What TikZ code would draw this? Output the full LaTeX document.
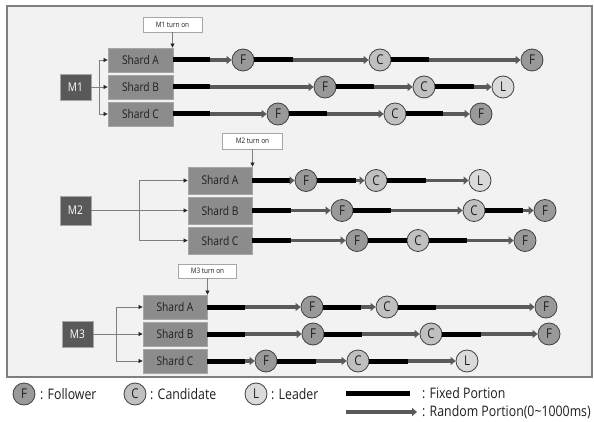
\documentclass[tikz,border=0pt]{standalone}
\usepackage{fontspec}
\setmainfont{Open Sans}[FakeStretch=0.85]
\usetikzlibrary{arrows.meta}
\definecolor{panelfill}{HTML}{F2F2F2}
\definecolor{panelline}{HTML}{7F7F7F}
\definecolor{shardfill}{HTML}{8C8C8C}
\definecolor{shardline}{HTML}{A6A6A6}
\definecolor{mfill}{HTML}{595959}
\definecolor{randcol}{HTML}{5A5A5A}
\definecolor{folfill}{HTML}{999999}
\definecolor{candfill}{HTML}{C0C0C0}
\definecolor{leadfill}{HTML}{DADADA}
\definecolor{txtdark}{HTML}{1F1F1F}
\tikzset{
  panelbox/.style={draw=panelline, fill=panelfill, line width=1.2pt, minimum width=585pt, minimum height=371pt, inner sep=0pt},
  shardbox/.style={draw=shardline, fill=shardfill, text=txtdark, line width=0.8pt, inner sep=0pt, font=\fontsize{12}{14}\selectfont},
  mbox/.style={draw=shardline, fill=mfill, text=white, line width=0.8pt, inner sep=0pt, minimum width=31pt, font=\fontsize{12}{14}\selectfont},
  turnbox/.style={draw=shardline, fill=white, text=txtdark, line width=0.7pt, inner sep=0pt, font=\fontsize{7.5}{9}\selectfont},
  state/.style={circle, draw=black!75, line width=0.8pt, minimum size=22pt, inner sep=0pt, text=txtdark, font=\fontsize{13.5}{15}\selectfont},
  fol/.style={state, fill=folfill},
  cand/.style={state, fill=candfill},
  lead/.style={state, fill=leadfill},
  fixedln/.style={line width=5pt, draw=black},
  randln/.style={line width=3.5pt, draw=randcol, -{Triangle[length=5pt,width=8pt]}},
  conn/.style={draw=panelline, line width=0.7pt},
  connarr/.style={conn, -{Triangle[length=4pt,width=4pt,color=black!85]}},
  legtext/.style={anchor=west, inner sep=0pt, text=txtdark, font=\fontsize{14.5}{16}\selectfont},
}
\newcommand\segfr[3]{\draw[fixedln] (#1) -- (#2); \draw[randln] (#2) -- (#3);}
\begin{document}
\begin{tikzpicture}[x=1pt,y=-1pt]
\useasboundingbox (0,0) rectangle (594,422);
\node[panelbox] (panel) at (299.5,191.5) {};

% ---------------- M1 ----------------
\node[mbox, minimum height=26pt] (m1) at (75.5,87) {M1};
\node[shardbox, minimum width=65pt, minimum height=24pt] (sa1) at (140.5,60) {Shard A};
\node[shardbox, minimum width=65pt, minimum height=24pt] (sb1) at (140.5,87) {Shard B};
\node[shardbox, minimum width=65pt, minimum height=24pt] (sc1) at (140.5,114) {Shard C};
\node[turnbox, minimum width=59pt, minimum height=15pt] (t1) at (172.5,24.5) {M1 turn on};
\draw[connarr] (t1.south) -- (t1.south |- sa1.north);
\coordinate (f1) at (99,87);
\draw[conn] (m1.east) -- (f1);
\draw[connarr] (f1) |- (sa1.west);
\draw[connarr] (f1) -- (sb1.west);
\draw[connarr] (f1) |- (sc1.west);
% row A
\node[fol] (a1f) at (243,60) {F};
\node[cand] (a1c) at (380,60) {C};
\node[fol] (a1f2) at (532,60) {F};
\coordinate (a1k1) at (210,60);
\coordinate (a1k2) at (293,60);
\coordinate (a1k3) at (429,60);
\segfr{sa1.east}{a1k1}{a1f}
\segfr{a1f}{a1k2}{a1c}
\segfr{a1c}{a1k3}{a1f2}
% row B
\node[fol] (b1f) at (325,87) {F};
\node[cand] (b1c) at (424,87) {C};
\node[lead] (b1l) at (503,87) {L};
\coordinate (b1k1) at (210,87);
\coordinate (b1k2) at (374,87);
\coordinate (b1k3) at (474,87);
\segfr{sb1.east}{b1k1}{b1f}
\segfr{b1f}{b1k2}{b1c}
\segfr{b1c}{b1k3}{b1l}
% row C
\node[fol] (c1f) at (278,114) {F};
\node[cand] (c1c) at (395,114) {C};
\node[fol] (c1f2) at (481,114) {F};
\coordinate (c1k1) at (210,114);
\coordinate (c1k2) at (327,114);
\coordinate (c1k3) at (443,114);
\segfr{sc1.east}{c1k1}{c1f}
\segfr{c1f}{c1k2}{c1c}
\segfr{c1c}{c1k3}{c1f2}

% ---------------- M2 ----------------
\node[mbox, minimum height=29pt] (m2) at (75.5,210.5) {M2};
\node[shardbox, minimum width=64pt, minimum height=27pt] (sa2) at (220,180.5) {Shard A};
\node[shardbox, minimum width=64pt, minimum height=27pt] (sb2) at (220,210.5) {Shard B};
\node[shardbox, minimum width=64pt, minimum height=27pt] (sc2) at (220,240.5) {Shard C};
\node[turnbox, minimum width=60pt, minimum height=16pt] (t2) at (252.5,141) {M2 turn on};
\draw[connarr] (t2.south) -- (t2.south |- sa2.north);
\coordinate (f2) at (139,210.5);
\draw[conn] (m2.east) -- (f2);
\draw[connarr] (f2) |- (sa2.west);
\draw[connarr] (f2) -- (sb2.west);
\draw[connarr] (f2) |- (sc2.west);
% row A
\node[fol] (a2f) at (306,180.5) {F};
\node[cand] (a2c) at (376,180.5) {C};
\node[lead] (a2l) at (480,180.5) {L};
\coordinate (a2k1) at (290,180.5);
\coordinate (a2k2) at (356,180.5);
\coordinate (a2k3) at (426,180.5);
\segfr{sa2.east}{a2k1}{a2f}
\segfr{a2f}{a2k2}{a2c}
\segfr{a2c}{a2k3}{a2l}
% row B
\node[fol] (b2f) at (342,210.5) {F};
\node[cand] (b2c) at (474,210.5) {C};
\node[fol] (b2f2) at (545,210.5) {F};
\coordinate (b2k1) at (291,210.5);
\coordinate (b2k2) at (391,210.5);
\coordinate (b2k3) at (523,210.5);
\segfr{sb2.east}{b2k1}{b2f}
\segfr{b2f}{b2k2}{b2c}
\segfr{b2c}{b2k3}{b2f2}
% row C
\node[fol] (c2f) at (357,240.5) {F};
\node[cand] (c2c) at (418,240.5) {C};
\node[fol] (c2f2) at (525,240.5) {F};
\coordinate (c2k1) at (291,240.5);
\coordinate (c2k3) at (467,240.5);
\segfr{sc2.east}{c2k1}{c2f}
\draw[fixedln] (c2f) -- (c2c);
\segfr{c2c}{c2k3}{c2f2}

% ---------------- M3 ----------------
\node[mbox, minimum height=26pt] (m3) at (77.5,334) {M3};
\node[shardbox, minimum width=64pt, minimum height=24pt] (sa3) at (175,307) {Shard A};
\node[shardbox, minimum width=64pt, minimum height=24pt] (sb3) at (175,334) {Shard B};
\node[shardbox, minimum width=64pt, minimum height=24pt] (sc3) at (175,361) {Shard C};
\node[turnbox, minimum width=58pt, minimum height=14pt] (t3) at (207.5,271) {M3 turn on};
\draw[connarr] (t3.south) -- (t3.south |- sa3.north);
\coordinate (f3) at (116,334);
\draw[conn] (m3.east) -- (f3);
\draw[connarr] (f3) |- (sa3.west);
\draw[connarr] (f3) -- (sb3.west);
\draw[connarr] (f3) |- (sc3.west);
% row A
\node[fol] (a3f) at (312,307) {F};
\node[cand] (a3c) at (387,307) {C};
\node[fol] (a3f2) at (546,307) {F};
\coordinate (a3k1) at (245,307);
\coordinate (a3k2) at (361,307);
\coordinate (a3k3) at (436,307);
\segfr{sa3.east}{a3k1}{a3f}
\segfr{a3f}{a3k2}{a3c}
\segfr{a3c}{a3k3}{a3f2}
% row B
\node[fol] (b3f) at (313,334) {F};
\node[cand] (b3c) at (431,334) {C};
\node[fol] (b3f2) at (549,334) {F};
\coordinate (b3k1) at (245,334);
\coordinate (b3k2) at (362,334);
\coordinate (b3k3) at (481,334);
\segfr{sb3.east}{b3k1}{b3f}
\segfr{b3f}{b3k2}{b3c}
\segfr{b3c}{b3k3}{b3f2}
% row C
\node[fol] (c3f) at (266,361) {F};
\node[cand] (c3c) at (358,361) {C};
\node[lead] (c3l) at (467,361) {L};
\coordinate (c3k1) at (245,361);
\coordinate (c3k2) at (316,361);
\coordinate (c3k3) at (408,361);
\segfr{sc3.east}{c3k1}{c3f}
\segfr{c3f}{c3k2}{c3c}
\segfr{c3c}{c3k3}{c3l}

% ---------------- Legend ----------------
\node[fol] (lf) at (24,394) {F};
\node[legtext] (lft) at (40,394) {: Follower};
\node[cand] (lc) at (135,394) {C};
\node[legtext] (lct) at (150,394) {: Candidate};
\node[lead] (ll) at (256,394) {L};
\node[legtext] (llt) at (271,394) {: Leader};
\coordinate (lx1) at (346,393);
\coordinate (lx2) at (410,393);
\draw[fixedln] (lx1) -- (lx2);
\node[legtext] (lxt) at (422,393) {: Fixed Portion};
\coordinate (lr1) at (346,412);
\coordinate (lr2) at (417,412);
\draw[randln] (lr1) -- (lr2);
\node[legtext] (lrt) at (422,412) {: Random Portion(0\textasciitilde 1000ms)};
\end{tikzpicture}
\end{document}
